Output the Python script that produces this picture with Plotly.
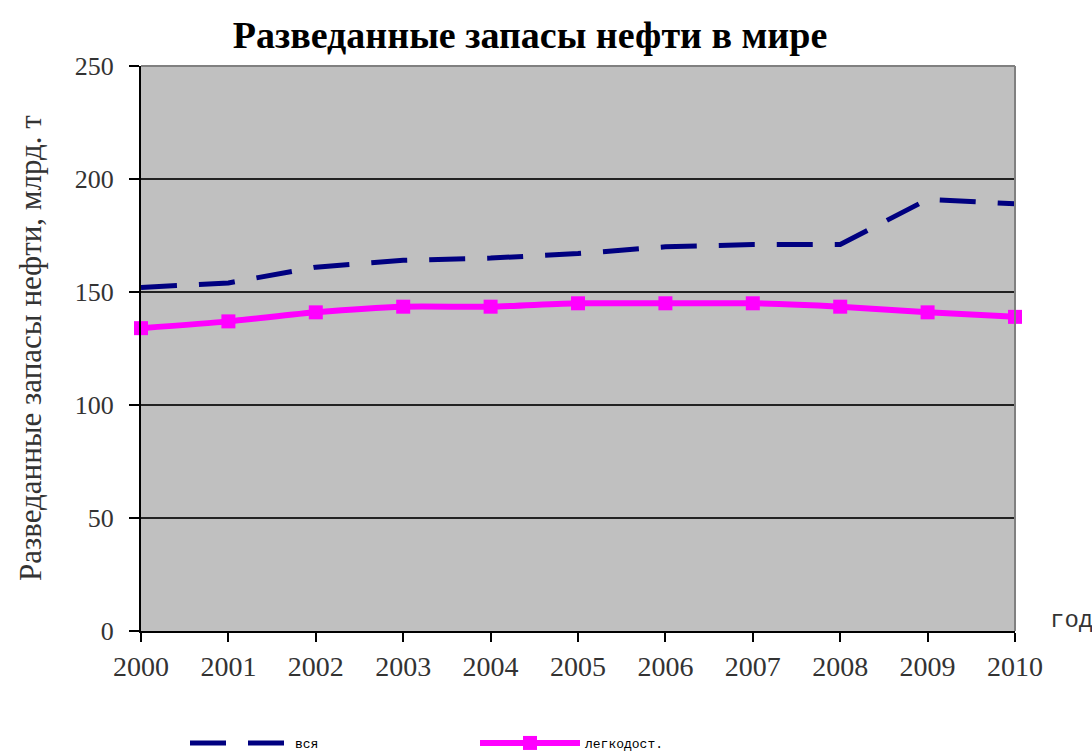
import plotly.graph_objects as go

years = [2000, 2001, 2002, 2003, 2004, 2005, 2006, 2007, 2008, 2009, 2010]
total_reserves = [152, 154, 161, 164, 165, 167, 170, 171, 171, 191, 189]
easy_reserves = [134, 137, 141, 143.5, 143.5, 145, 145, 145, 143.5, 141, 139]

title_text = "Разведанные запасы нефти в мире"
y_title = "Разведанные запасы нефти, млрд. т"
x_title = "год"
series_names = ["вся", "легкодост."]

serif = "Liberation Serif, Times New Roman, serif"
mono = "Liberation Mono, Courier New, monospace"

fig = go.Figure()

fig.add_trace(go.Scatter(
    x=years, y=total_reserves, name=series_names[0], mode="lines",
    line=dict(color="#000080", width=5, dash="36px,22px"),
    cliponaxis=False,
))
fig.add_trace(go.Scatter(
    x=years, y=easy_reserves, name=series_names[1], mode="lines+markers",
    line=dict(color="#ff00ff", width=6, shape="spline", smoothing=0.6),
    marker=dict(symbol="square", size=14, color="#ff00ff"),
    cliponaxis=False,
))

fig.update_layout(
    width=1092, height=755,
    margin=dict(l=141, r=77, t=66, b=124, autoexpand=False),
    paper_bgcolor="white",
    plot_bgcolor="#c0c0c0",
    title=dict(text=f"<b>{title_text}</b>", x=530 / 1092, xanchor="center",
               y=1 - 35 / 755, yanchor="middle",
               font=dict(family=serif, size=38, color="black")),
    font=dict(family=serif, color="#333333"),
    showlegend=True,
    legend=dict(orientation="h", x=(185 - 141) / 874, xanchor="left",
                y=(631 - 743) / 565, yanchor="middle",
                entrywidth=175, entrywidthmode="pixels", itemwidth=100,
                font=dict(family=mono, size=13, color="black"),
                bgcolor="rgba(0,0,0,0)"),
    xaxis=dict(
        range=[2000, 2010], tickmode="array", tickvals=years,
        ticktext=[str(y) for y in years],
        ticks="outside", ticklen=9, tickcolor="black", tickwidth=2,
        ticklabelstandoff=0, automargin=False,
        showline=True, linecolor="black", linewidth=2,
        showgrid=False, zeroline=False,
        tickfont=dict(family=serif, size=28, color="#333333"),
    ),
    yaxis=dict(
        range=[0, 250], dtick=50,
        ticks="outside", ticklen=10, tickcolor="black", tickwidth=2,
        ticklabelstandoff=10, automargin=False,
        showline=True, linecolor="black", linewidth=2,
        showgrid=True, gridcolor="#222222", gridwidth=2,
        zeroline=False,
        tickfont=dict(family=serif, size=26, color="#333333"),
    ),
)

# Top and right border of the plot area
fig.add_shape(type="line", xref="paper", yref="paper", x0=0, x1=1, y0=1, y1=1,
              line=dict(color="#808080", width=2))
fig.add_shape(type="line", xref="paper", yref="paper", x0=1, x1=1, y0=0, y1=1,
              line=dict(color="#808080", width=2))

# Rotated y-axis title
fig.add_annotation(text=y_title, xref="paper", yref="paper",
                   x=(30 - 141) / 874, y=(631 - 348) / 565,
                   xanchor="center", yanchor="middle", textangle=-90,
                   showarrow=False, font=dict(family=serif, size=31, color="#333333"))

fig.add_annotation(text=x_title, xref="paper", yref="paper",
                   x=(1048 - 141) / 874, y=(631 - 620) / 565,
                   xanchor="left", yanchor="middle",
                   showarrow=False, font=dict(family=mono, size=24, color="#333333"))

fig.write_html("out.html")
